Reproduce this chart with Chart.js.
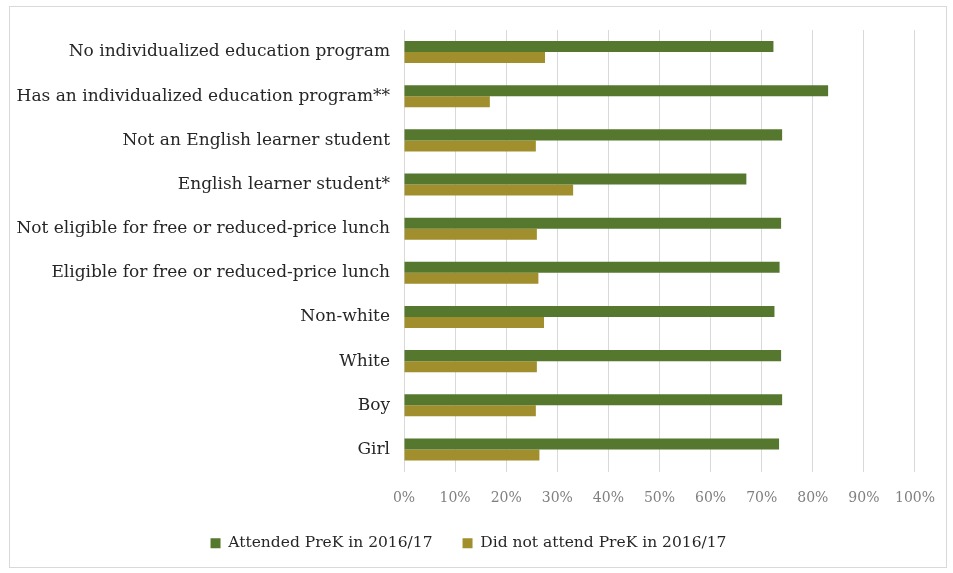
<!DOCTYPE html>
<html>
<head>
<meta charset="utf-8">
<script src="https://cdn.jsdelivr.net/npm/chart.js@4/dist/chart.umd.min.js"></script>
<style>
  html, body { margin: 0; padding: 0; background: #fff; }
  #marco {
    position: absolute; left: 9px; top: 6px;
    width: 936px; height: 560px;
    border: 1px solid #d9d9d9;
  }
  #lienzo { position: absolute; left: 0; top: 0; }
</style>
</head>
<body>
<div id="marco"></div>
<canvas id="lienzo" width="953" height="573"></canvas>
<script>
'use strict';

const categorias = [
    'No individualized education program',
    'Has an individualized education program**',
    'Not an English learner student',
    'English learner student*',
    'Not eligible for free or reduced-price lunch',
    'Eligible for free or reduced-price lunch',
    'Non-white',
    'White',
    'Boy',
    'Girl'
];

const asistio = [72.3, 83.0, 74.0, 67.0, 73.8, 73.5, 72.5, 73.8, 74.0, 73.4];
const noAsistio = [27.6, 16.8, 25.8, 33.1, 26.0, 26.3, 27.4, 26.0, 25.8, 26.5];

const ticksX = [0, 10, 20, 30, 40, 50, 60, 70, 80, 90, 100];

const fuente = "'DejaVu Serif', 'Liberation Serif', serif";

new Chart(document.getElementById('lienzo'), {
    type: 'bar',
    data: {
        labels: categorias,
        datasets: [{
            label: 'Attended PreK in 2016/17',
            data: asistio,
            backgroundColor: '#55782e',
            categoryPercentage: 0.5,
            barPercentage: 1.0
        }, {
            label: 'Did not attend PreK in 2016/17',
            data: noAsistio,
            backgroundColor: '#a08f2c',
            categoryPercentage: 0.5,
            barPercentage: 1.0
        }]
    },
    options: {
        indexAxis: 'y',
        responsive: false,
        animation: false,
        layout: {
            padding: { left: 10, right: 26, top: 30, bottom: 12 }
        },
        scales: {
            x: {
                min: 0,
                max: 100,
                afterBuildTicks: (scale) => {
                    scale.ticks = ticksX.map(v => ({ value: v }));
                },
                // altura fija: las etiquetas invaden un poco el espacio de la leyenda
                afterFit: (scale) => { scale.height = 34; },
                grid: { color: '#d9d9d9', drawTicks: false },
                border: { display: false },
                ticks: {
                    padding: 18,
                    color: '#7f7f7f',
                    font: { family: fuente, size: 14 },
                    callback: (v) => v + '%'
                }
            },
            y: {
                grid: { display: false },
                border: { display: false },
                afterFit: (scale) => { scale.width = 394; },
                ticks: {
                    padding: 6,
                    color: '#262626',
                    font: { family: fuente, size: 17 }
                }
            }
        },
        plugins: {
            legend: {
                position: 'bottom',
                labels: {
                    boxWidth: 10,
                    boxHeight: 10,
                    padding: 30,
                    color: '#262626',
                    font: { family: fuente, size: 15.5 }
                }
            },
            tooltip: { enabled: false }
        }
    }
});
</script>
</body>
</html>
